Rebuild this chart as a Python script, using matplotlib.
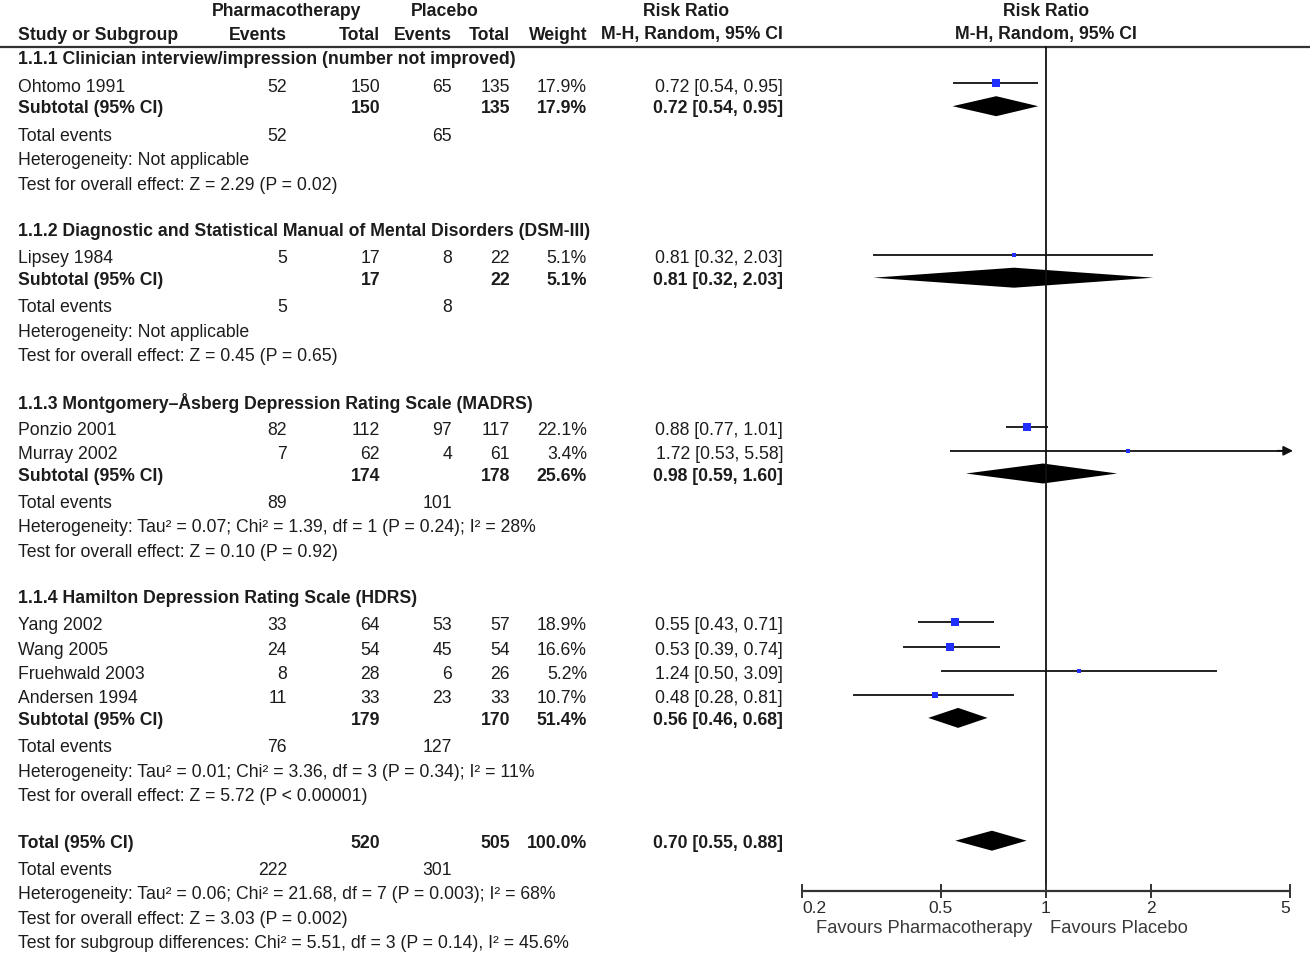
import matplotlib
matplotlib.use("Agg")
import matplotlib.pyplot as plt
import numpy as np

# ---------------- data ----------------
group_titles = [
    "1.1.1 Clinician interview/impression (number not improved)",
    "1.1.2 Diagnostic and Statistical Manual of Mental Disorders (DSM-III)",
    "1.1.3 Montgomery\u2013\u00c5sberg Depression Rating Scale (MADRS)",
    "1.1.4 Hamilton Depression Rating Scale (HDRS)",
]
study_names = ["Ohtomo 1991", "Lipsey 1984", "Ponzio 2001", "Murray 2002",
               "Yang 2002", "Wang 2005", "Fruehwald 2003", "Andersen 1994"]
study_group = [0, 1, 2, 2, 3, 3, 3, 3]
pharm_events = [52, 5, 82, 7, 33, 24, 8, 11]
pharm_total = [150, 17, 112, 62, 64, 54, 28, 33]
plac_events = [65, 8, 97, 4, 53, 45, 6, 23]
plac_total = [135, 22, 117, 61, 57, 54, 26, 33]
weights = [17.9, 5.1, 22.1, 3.4, 18.9, 16.6, 5.2, 10.7]
rr = [0.72, 0.81, 0.88, 1.72, 0.55, 0.53, 1.24, 0.48]
rr_lo = [0.54, 0.32, 0.77, 0.53, 0.43, 0.39, 0.50, 0.28]
rr_hi = [0.95, 2.03, 1.01, 5.58, 0.71, 0.74, 3.09, 0.81]

sub_pharm_total = [150, 17, 174, 179]
sub_plac_total = [135, 22, 178, 170]
sub_weight = [17.9, 5.1, 25.6, 51.4]
sub_rr = [0.72, 0.81, 0.98, 0.56]
sub_lo = [0.54, 0.32, 0.59, 0.46]
sub_hi = [0.95, 2.03, 1.60, 0.68]
sub_pharm_events = [52, 5, 89, 76]
sub_plac_events = [65, 8, 101, 127]
sub_het = ["Not applicable", "Not applicable",
           "Tau\u00b2 = 0.07; Chi\u00b2 = 1.39, df = 1 (P = 0.24); I\u00b2 = 28%",
           "Tau\u00b2 = 0.01; Chi\u00b2 = 3.36, df = 3 (P = 0.34); I\u00b2 = 11%"]
sub_z = ["Z = 2.29 (P = 0.02)", "Z = 0.45 (P = 0.65)",
         "Z = 0.10 (P = 0.92)", "Z = 5.72 (P < 0.00001)"]

tot_pharm_total, tot_plac_total, tot_weight = 520, 505, 100.0
tot_rr, tot_lo, tot_hi = 0.70, 0.55, 0.88
tot_pharm_events, tot_plac_events = 222, 301
tot_het = "Tau\u00b2 = 0.06; Chi\u00b2 = 21.68, df = 7 (P = 0.003); I\u00b2 = 68%"
tot_z = "Z = 3.03 (P = 0.002)"
subgroup_test = "Chi\u00b2 = 5.51, df = 3 (P = 0.14), I\u00b2 = 45.6%"

axis_ticks = [0.2, 0.5, 1, 2, 5]
axis_tick_labels = ["0.2", "0.5", "1", "2", "5"]
favours_left = "Favours Pharmacotherapy"
favours_right = "Favours Placebo"

# ---------------- fonts ----------------
TFONT = ["Liberation Sans", "DejaVu Sans"]
AFONT = ["Liberation Sans", "DejaVu Sans"]
TC = "#1c1c1c"
FS = 12.7

W, H = 1313, 955
fig = plt.figure(figsize=(W / 100, H / 100), dpi=100)
tax = fig.add_axes([0, 0, 1, 1])
tax.set_xlim(0, W)
tax.set_ylim(H, 0)
tax.axis("off")

# forest axes: 0.2 at px 802, 5 at px 1290
X0, X1 = 802, 1290
fax = fig.add_axes([X0 / W, 0, (X1 - X0) / W, 1])
fax.set_xscale("log")
fax.set_xlim(0.2, 5)
fax.set_ylim(H, 0)
fax.axis("off")
fax.patch.set_alpha(0)

def txt(x, y, s, ha="left", bold=False, **kw):
    tax.text(x, y, s, ha=ha, va="center", fontsize=FS, family=TFONT,
             fontweight="bold" if bold else "normal", color=TC, **kw)

# columns (right edges)
C_PE, C_PT, C_CE, C_CT, C_W, C_RR = 287, 380, 452, 510, 587, 783
LX = 18

# header
txt(287, 11.5, "Pharmacotherapy", ha="center", bold=True)
txt(445, 11.5, "Placebo", ha="center", bold=True)
txt(686, 11.5, "Risk Ratio", ha="center", bold=True)
txt(LX, 35, "Study or Subgroup", bold=True)
txt(C_PE, 35, "Events", ha="right", bold=True)
txt(C_PT, 35, "Total", ha="right", bold=True)
txt(C_CE, 35, "Events", ha="right", bold=True)
txt(C_CT, 35, "Total", ha="right", bold=True)
txt(C_W, 35, "Weight", ha="right", bold=True)
txt(C_RR, 35, "M-H, Random, 95% CI", ha="right", bold=True)
txt(1046, 11.5, "Risk Ratio", ha="center", bold=True)
txt(1046, 35, "M-H, Random, 95% CI", ha="center", bold=True)
tax.plot([0, 1310], [47, 47], color="#333333", lw=1.6, solid_capstyle="butt")

MARK_OFF = -3.5
HALF = 10

def ci_str(r, lo, hi):
    return f"{r:.2f} [{lo:.2f}, {hi:.2f}]"

def diamond(y, r, lo, hi):
    fax.fill([lo, r, hi, r], [y, y - HALF, y, y + HALF], color="black", lw=0)

y = 60
for g in range(4):
    txt(LX, y, group_titles[g], bold=True)
    y += 27
    idx = [i for i in range(len(study_names)) if study_group[i] == g]
    for k, i in enumerate(idx):
        if k > 0:
            y += 24.3
        txt(LX, y, study_names[i])
        txt(C_PE, y, str(pharm_events[i]), ha="right")
        txt(C_PT, y, str(pharm_total[i]), ha="right")
        txt(C_CE, y, str(plac_events[i]), ha="right")
        txt(C_CT, y, str(plac_total[i]), ha="right")
        txt(C_W, y, f"{weights[i]:.1f}%", ha="right")
        txt(C_RR, y, ci_str(rr[i], rr_lo[i], rr_hi[i]), ha="right")
        ym = y + MARK_OFF
        hi_draw = min(rr_hi[i], 5.0)
        fax.plot([rr_lo[i], hi_draw], [ym, ym], color="#111111", lw=1.3,
                 solid_capstyle="butt", clip_on=False)
        if rr_hi[i] > 5:
            fax.annotate("", xy=(5.1, ym), xytext=(4.6, ym),
                         arrowprops=dict(arrowstyle="-|>", color="#111111",
                                         lw=1.3, mutation_scale=14,
                                         shrinkA=0, shrinkB=0),
                         annotation_clip=False)
        side_px = 1.85 * np.sqrt(weights[i])
        fax.plot([rr[i]], [ym], marker="s", ms=side_px * 0.72, color="#1f2fff",
                 mec="#1f2fff", mew=0, clip_on=False, zorder=5)
    y += 21.7
    txt(LX, y, "Subtotal (95% CI)", bold=True)
    txt(C_PT, y, str(sub_pharm_total[g]), ha="right", bold=True)
    txt(C_CT, y, str(sub_plac_total[g]), ha="right", bold=True)
    txt(C_W, y, f"{sub_weight[g]:.1f}%", ha="right", bold=True)
    txt(C_RR, y, ci_str(sub_rr[g], sub_lo[g], sub_hi[g]), ha="right", bold=True)
    diamond(y + MARK_OFF + 1, sub_rr[g], sub_lo[g], sub_hi[g])
    y += 27.5
    txt(LX, y, "Total events")
    txt(C_PE, y, str(sub_pharm_events[g]), ha="right")
    txt(C_CE, y, str(sub_plac_events[g]), ha="right")
    y += 24.3
    txt(LX, y, "Heterogeneity: " + sub_het[g])
    y += 24.5
    txt(LX, y, "Test for overall effect: " + sub_z[g])
    y += 46.5

# overall
txt(LX, y, "Total (95% CI)", bold=True)
txt(C_PT, y, str(tot_pharm_total), ha="right", bold=True)
txt(C_CT, y, str(tot_plac_total), ha="right", bold=True)
txt(C_W, y, f"{tot_weight:.1f}%", ha="right", bold=True)
txt(C_RR, y, ci_str(tot_rr, tot_lo, tot_hi), ha="right", bold=True)
diamond(y + MARK_OFF + 1, tot_rr, tot_lo, tot_hi)
y += 27
txt(LX, y, "Total events")
txt(C_PE, y, str(tot_pharm_events), ha="right")
txt(C_CE, y, str(tot_plac_events), ha="right")
y += 24.3
txt(LX, y, "Heterogeneity: " + tot_het)
y += 24.5
txt(LX, y, "Test for overall effect: " + tot_z)
y += 24.5
txt(LX, y, "Test for subgroup differences: " + subgroup_test)

# axis
AY = 891
fax.plot([1, 1], [47, AY], color="#111111", lw=1.3, clip_on=False)
fax.plot([0.2, 5], [AY, AY], color="#333333", lw=1.6, clip_on=False,
         solid_capstyle="butt")
for t, lab in zip(axis_ticks, axis_tick_labels):
    fax.plot([t, t], [AY - 6, AY + 6], color="#333333", lw=1.4, clip_on=False)
    ha = "center"
    if t == axis_ticks[0]:
        ha = "left"
    elif t == axis_ticks[-1]:
        ha = "right"
    fax.text(t, 908, lab, ha=ha, va="center", fontsize=12.5, family=AFONT,
             color="#2a2a2a")
fax.text(0.912, 928, favours_left, ha="right", va="center", fontsize=13.2,
         family=AFONT, color="#3a3a3a")
fax.text(1.027, 928, favours_right, ha="left", va="center", fontsize=13.2,
         family=AFONT, color="#3a3a3a")

fig.savefig("out.png", dpi=100)
